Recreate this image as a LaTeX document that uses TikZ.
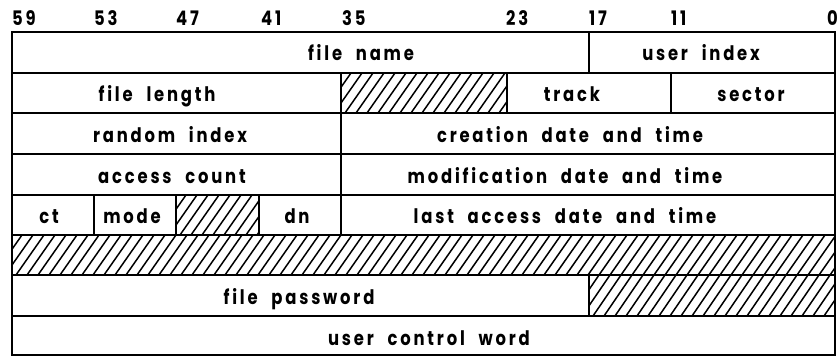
\documentclass[tikz,border=0pt]{standalone}
\usepackage{fontspec}
\setmainfont{Poppins}
\newfontfamily\lblfont{Poppins}[LetterSpace=14, WordSpace=2.2, FakeStretch=0.82]
\tikzset{
  gridline/.style={line width=2.2pt, line cap=rect},
  hatchline/.style={line width=1.5pt},
  lbl/.style={font=\lblfont\bfseries\fontsize{20}{20}\selectfont, anchor=base, inner sep=0pt},
  bitlbl/.style={font=\lblfont\bfseries\fontsize{20}{20}\selectfont, anchor=base west, inner sep=0pt},
}
\newcommand{\hatchbox}[4]{%
  \begin{scope}
    \clip (#1,#2) rectangle (#3,#4);
    \foreach \k in {0,...,80} \draw[hatchline] ({#1-40+\k*11},#4) -- ++(28,{#2-#4});
  \end{scope}}
\begin{document}
\begin{tikzpicture}[x=1pt,y=-1pt]
\useasboundingbox (0,0) rectangle (837,356);
% columns
\def\cA{12}\def\cB{94}\def\cC{176}\def\cD{259}\def\cE{341}\def\cF{507}\def\cG{589}\def\cH{671}\def\cI{835}
% rows
\def\rA{32}\def\rB{73}\def\rC{113}\def\rD{154}\def\rE{195}\def\rF{235}\def\rG{275}\def\rH{316}\def\rI{355}
% hatched fields
\hatchbox{\cE}{\rB}{\cF}{\rC}
\hatchbox{\cC}{\rE}{\cD}{\rF}
\hatchbox{\cA}{\rF}{\cI}{\rG}
\hatchbox{\cG}{\rG}{\cI}{\rH}
% grid
\foreach \y in {\rA,\rB,\rC,\rD,\rE,\rF,\rG,\rH,\rI} \draw[gridline] (\cA,\y) -- (\cI,\y);
\draw[gridline] (\cA,\rA) -- (\cA,\rI);
\draw[gridline] (\cI,\rA) -- (\cI,\rI);
\draw[gridline] (\cG,\rA) -- (\cG,\rB);
\draw[gridline] (\cE,\rB) -- (\cE,\rC);
\draw[gridline] (\cF,\rB) -- (\cF,\rC);
\draw[gridline] (\cH,\rB) -- (\cH,\rC);
\draw[gridline] (\cE,\rC) -- (\cE,\rF);
\draw[gridline] (\cB,\rE) -- (\cB,\rF);
\draw[gridline] (\cC,\rE) -- (\cC,\rF);
\draw[gridline] (\cD,\rE) -- (\cD,\rF);
\draw[gridline] (\cG,\rG) -- (\cG,\rH);
% bit numbers
\node[bitlbl] (b59) at (12,25) {59};
\node[bitlbl] (b53) at (94,25) {53};
\node[bitlbl] (b47) at (176,25) {47};
\node[bitlbl] (b41) at (261,25) {41};
\node[bitlbl] (b35) at (342,25) {35};
\node[bitlbl] (b23) at (506,25) {23};
\node[bitlbl] (b17) at (589,25) {17};
\node[bitlbl] (b11) at (671,25) {11};
\node[bitlbl, anchor=base east] (b0) at (838,25) {0};
% field labels
\node[lbl] (fname) at (361,60) {file name};
\node[lbl] (uindex) at (701,60) {user index};
\node[lbl] (flength) at (157,101) {file length};
\node[lbl] (track) at (572,101) {track};
\node[lbl] (sector) at (751,101) {sector};
\node[lbl] (rindex) at (170,142) {random index};
\node[lbl] (cdate) at (570,142) {creation date and time};
\node[lbl] (acount) at (172,183) {access count};
\node[lbl] (mdate) at (565,183) {modification date and time};
\node[lbl] (ct) at (49,223) {ct};
\node[lbl] (mode) at (132,223) {mode};
\node[lbl] (dn) at (297,223) {dn};
\node[lbl] (ladate) at (565,223) {last access date and time};
\node[lbl] (fpass) at (299,304) {file password};
\node[lbl] (ucw) at (429,345) {user control word};
\end{tikzpicture}
\end{document}
